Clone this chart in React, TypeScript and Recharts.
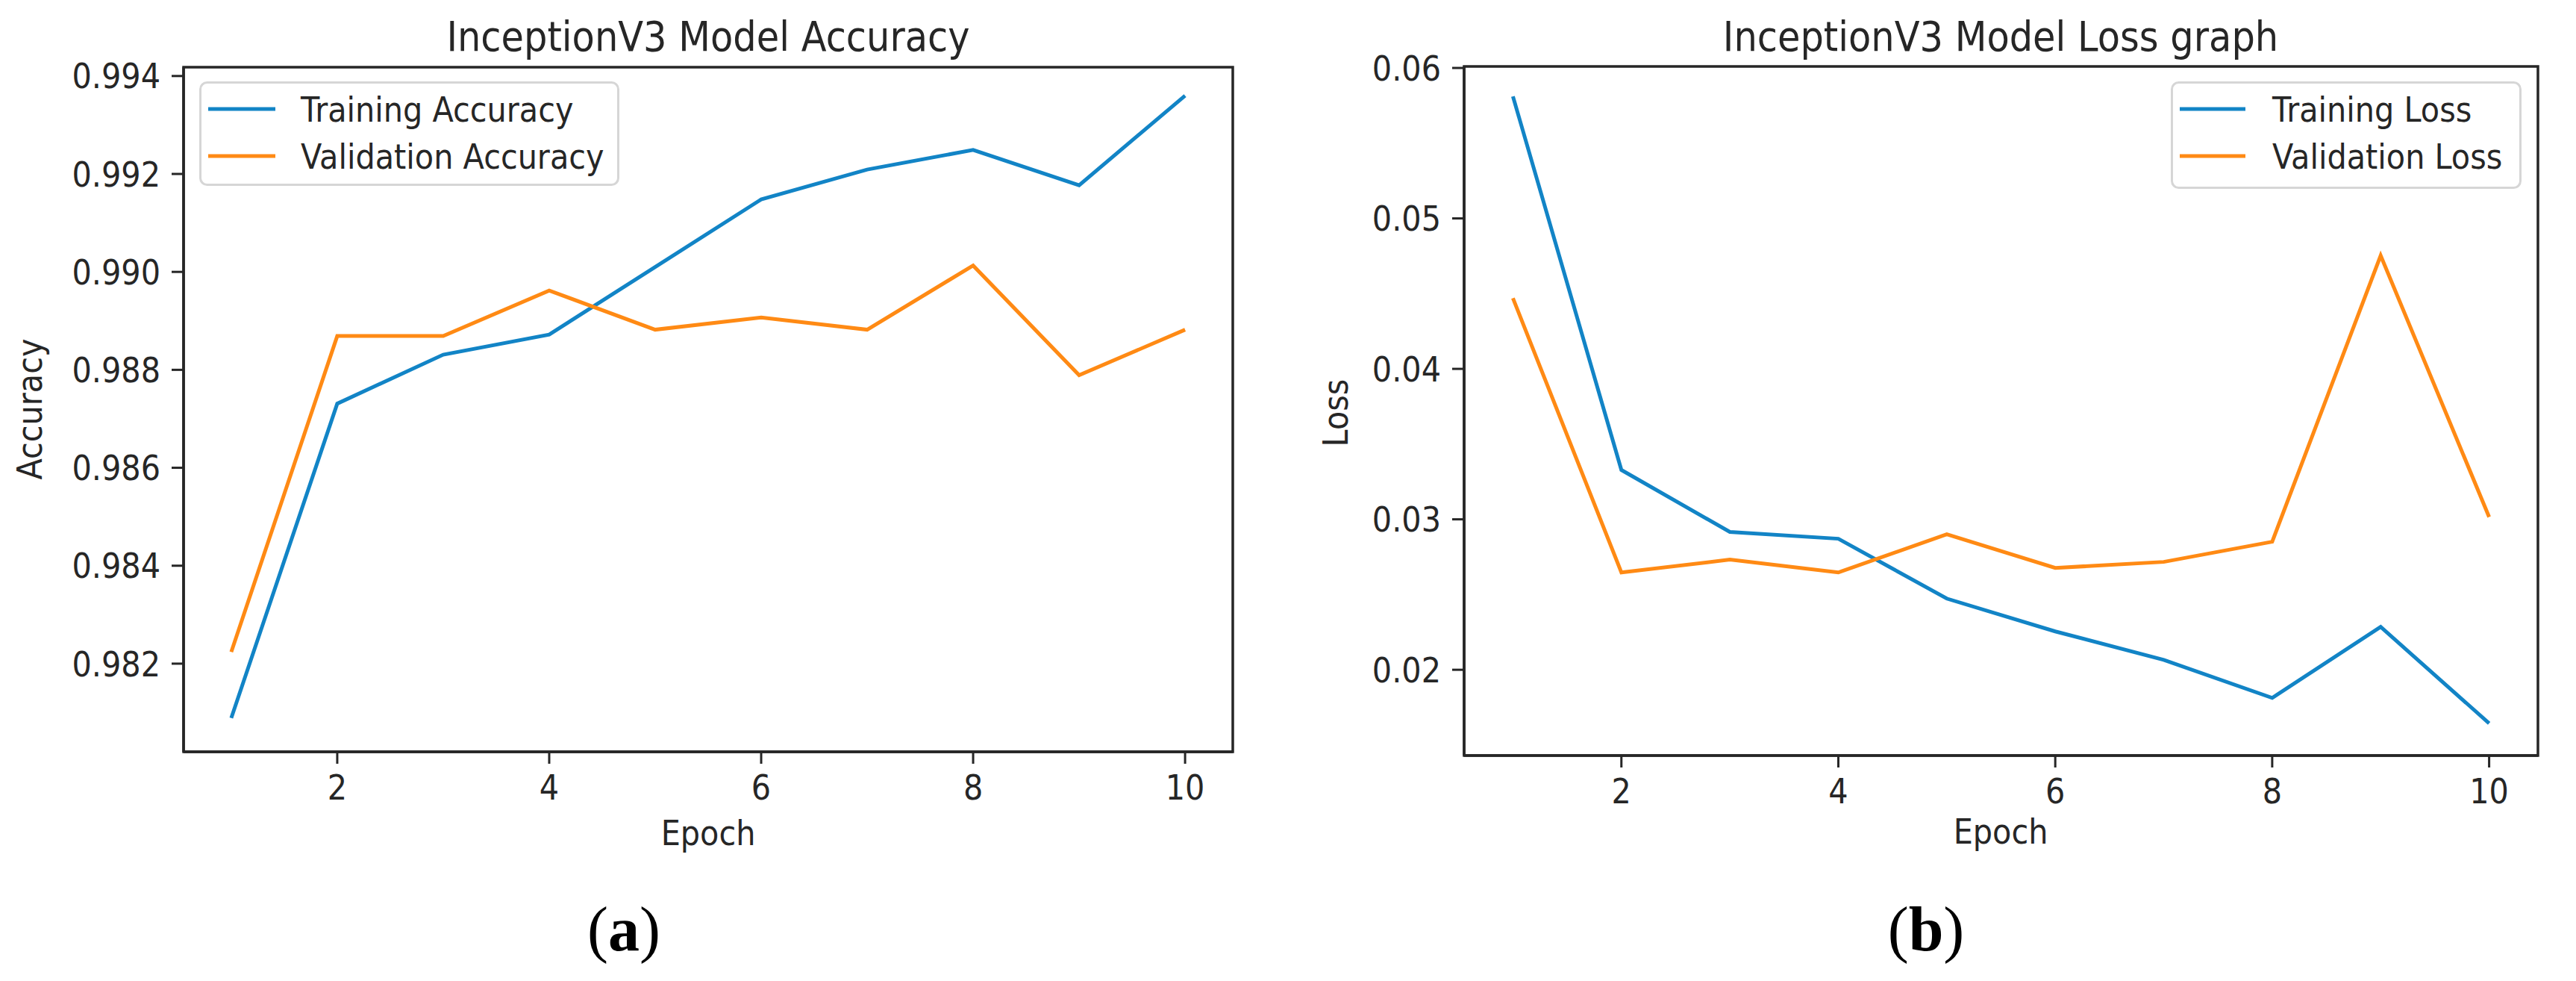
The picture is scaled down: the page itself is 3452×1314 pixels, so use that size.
import React from 'react';
import { LineChart, Line, XAxis, YAxis, Legend, ReferenceArea } from 'recharts';

// ---------- data ----------
const epochs = [1, 2, 3, 4, 5, 6, 7, 8, 9, 10];
const trainAcc = [0.98089, 0.98731, 0.98831, 0.98872, 0.9901, 0.99148, 0.99209, 0.99249, 0.99177, 0.9936];
const valAcc = [0.98224, 0.98869, 0.98869, 0.98962, 0.98882, 0.98907, 0.98882, 0.99013, 0.98789, 0.98882];
const trainLoss = [0.05811, 0.03328, 0.02916, 0.02871, 0.02473, 0.02255, 0.02066, 0.01813, 0.02285, 0.01644];
const valLoss = [0.0447, 0.02647, 0.02732, 0.02647, 0.02901, 0.02677, 0.02717, 0.02851, 0.04753, 0.03015];

const xTicks = [2, 4, 6, 8, 10];
const accTicks = [0.982, 0.984, 0.986, 0.988, 0.99, 0.992, 0.994];
const lossTicks = [0.02, 0.03, 0.04, 0.05, 0.06];

const accTitle = 'InceptionV3 Model Accuracy';
const lossTitle = 'InceptionV3 Model Loss graph';

const accData = epochs.map((e, i) => ({ epoch: e, train: trainAcc[i], val: valAcc[i] }));
const lossData = epochs.map((e, i) => ({ epoch: e, train: trainLoss[i], val: valLoss[i] }));

// ---------- style ----------
const BLUE = '#1284c6';
const ORANGE = '#ff8a14';
const INK = '#262626';
const FONT = "'DejaVu Sans', sans-serif";
const SX = 0.9; // horizontal condense factor
const XDOM: [number, number] = [0.55, 10.45];
const ACC_DOM: [number, number] = [0.9802, 0.99418];
const LOSS_DOM: [number, number] = [0.0143, 0.0601];

const YTick = (props: any) => {
  const { x, y, payload, digits } = props;
  return (
    <g transform={`translate(${x},${y}) scale(${SX},1)`}>
      <text x={0} y={0} dy="0.36em" textAnchor="end" fontSize={46} fontFamily={FONT} fill={INK}>
        {Number(payload.value).toFixed(digits)}
      </text>
    </g>
  );
};

const XTick = (props: any) => {
  const { x, y, payload } = props;
  return (
    <g transform={`translate(${x},${y}) scale(${SX},1)`}>
      <text x={0} y={0} dy="0.72em" textAnchor="middle" fontSize={46} fontFamily={FONT} fill={INK}>
        {payload.value}
      </text>
    </g>
  );
};

const LegendBox = ({ payload, width, height, lineLen }: any) => (
  <svg width={width} height={height} style={{ display: 'block', overflow: 'visible' }}>
    <rect x={1.5} y={1.5} width={width - 3} height={height - 3} rx={9} ry={9}
      fill="rgba(255,255,255,0.8)" stroke="#d6d6d6" strokeWidth={3} />
    {(payload || []).map((p: any, i: number) => {
      const cy = 37 + i * 63;
      return (
        <g key={i}>
          <line x1={12} x2={12 + lineLen} y1={cy} y2={cy} stroke={p.color} strokeWidth={5} />
          <g transform={`translate(136,${cy}) scale(${SX},1)`}>
            <text x={0} y={0} dy="0.36em" fontSize={46} fontFamily={FONT} fill={INK}>{p.value}</text>
          </g>
        </g>
      );
    })}
  </svg>
);

const CText = ({ x, y, size, children, rotate }: any) => (
  <g transform={`translate(${x},${y})${rotate ? ' rotate(-90)' : ''} scale(${SX},1)`}>
    <text x={0} y={0} textAnchor="middle" fontSize={size} fontFamily={FONT} fill={INK}>{children}</text>
  </g>
);

export default function App() {
  return (
    <div style={{ position: 'absolute', left: 0, top: 0, width: 3452, height: 1314, background: '#fff', overflow: 'hidden' }}>
      {/* (a) accuracy */}
      <div style={{ position: 'absolute', left: 0, top: 0 }}>
        <LineChart width={1726} height={1314} data={accData} margin={{ top: 90, right: 74, bottom: 207, left: 46 }}>
          <XAxis type="number" dataKey="epoch" domain={XDOM} ticks={xTicks} allowDataOverflow
            height={100} tickSize={16} tickMargin={15}
            axisLine={{ stroke: INK, strokeWidth: 3.5 }} tickLine={{ stroke: INK, strokeWidth: 3 }}
            tick={(p: any) => <XTick {...p} />} />
          <YAxis type="number" domain={ACC_DOM} ticks={accTicks} allowDataOverflow
            width={200} tickSize={16} tickMargin={15}
            axisLine={{ stroke: INK, strokeWidth: 3.5 }} tickLine={{ stroke: INK, strokeWidth: 3 }}
            tick={(p: any) => <YTick {...p} digits={3} />} />
          <ReferenceArea x1={XDOM[0]} x2={XDOM[1]} y1={ACC_DOM[0]} y2={ACC_DOM[1]}
            fill="none" fillOpacity={0} stroke={INK} strokeWidth={3.5} ifOverflow="visible" />
          <Line type="linear" dataKey="train" name="Training Accuracy" stroke={BLUE} strokeWidth={5}
            dot={false} activeDot={false} isAnimationActive={false} />
          <Line type="linear" dataKey="val" name="Validation Accuracy" stroke={ORANGE} strokeWidth={5}
            dot={false} activeDot={false} isAnimationActive={false} />
          <Legend layout="vertical" align="center" verticalAlign="middle"
            wrapperStyle={{ position: 'absolute', left: 267, top: 109, width: 563, height: 140 }}
            content={(p: any) => <LegendBox payload={p.payload} width={563} height={140} lineLen={90} />} />
        </LineChart>
      </div>

      {/* (b) loss */}
      <div style={{ position: 'absolute', left: 1726, top: 0 }}>
        <LineChart width={1726} height={1314} data={lossData} margin={{ top: 89, right: 51, bottom: 202, left: 36 }}>
          <XAxis type="number" dataKey="epoch" domain={XDOM} ticks={xTicks} allowDataOverflow
            height={100} tickSize={16} tickMargin={15}
            axisLine={{ stroke: INK, strokeWidth: 3.5 }} tickLine={{ stroke: INK, strokeWidth: 3 }}
            tick={(p: any) => <XTick {...p} />} />
          <YAxis type="number" domain={LOSS_DOM} ticks={lossTicks} allowDataOverflow
            width={200} tickSize={16} tickMargin={15}
            axisLine={{ stroke: INK, strokeWidth: 3.5 }} tickLine={{ stroke: INK, strokeWidth: 3 }}
            tick={(p: any) => <YTick {...p} digits={2} />} />
          <ReferenceArea x1={XDOM[0]} x2={XDOM[1]} y1={LOSS_DOM[0]} y2={LOSS_DOM[1]}
            fill="none" fillOpacity={0} stroke={INK} strokeWidth={3.5} ifOverflow="visible" />
          <Line type="linear" dataKey="train" name="Training Loss" stroke={BLUE} strokeWidth={5}
            dot={false} activeDot={false} isAnimationActive={false} />
          <Line type="linear" dataKey="val" name="Validation Loss" stroke={ORANGE} strokeWidth={5}
            dot={false} activeDot={false} isAnimationActive={false} />
          <Legend layout="vertical" align="center" verticalAlign="middle"
            wrapperStyle={{ position: 'absolute', left: 1183, top: 109, width: 470, height: 144 }}
            content={(p: any) => <LegendBox payload={p.payload} width={470} height={144} lineLen={88} />} />
        </LineChart>
      </div>

      {/* titles, axis labels, captions */}
      <svg width={3452} height={1314} style={{ position: 'absolute', left: 0, top: 0, pointerEvents: 'none' }}>
        <CText x={949} y={68} size={55}>{accTitle}</CText>
        <CText x={2681} y={68} size={55}>{lossTitle}</CText>
        <CText x={949} y={1132} size={46}>Epoch</CText>
        <CText x={2681} y={1130} size={46}>Epoch</CText>
        <CText x={56} y={548} size={46} rotate>Accuracy</CText>
        <CText x={1806} y={553} size={46} rotate>Loss</CText>
        <text x={836} y={1273} textAnchor="middle" fontSize={84} fontFamily="'Liberation Serif', serif" fill="#000">
          (<tspan fontWeight="bold">a</tspan>)
        </text>
        <text x={2581} y={1273} textAnchor="middle" fontSize={84} fontFamily="'Liberation Serif', serif" fill="#000">
          (<tspan fontWeight="bold">b</tspan>)
        </text>
      </svg>
    </div>
  );
}
